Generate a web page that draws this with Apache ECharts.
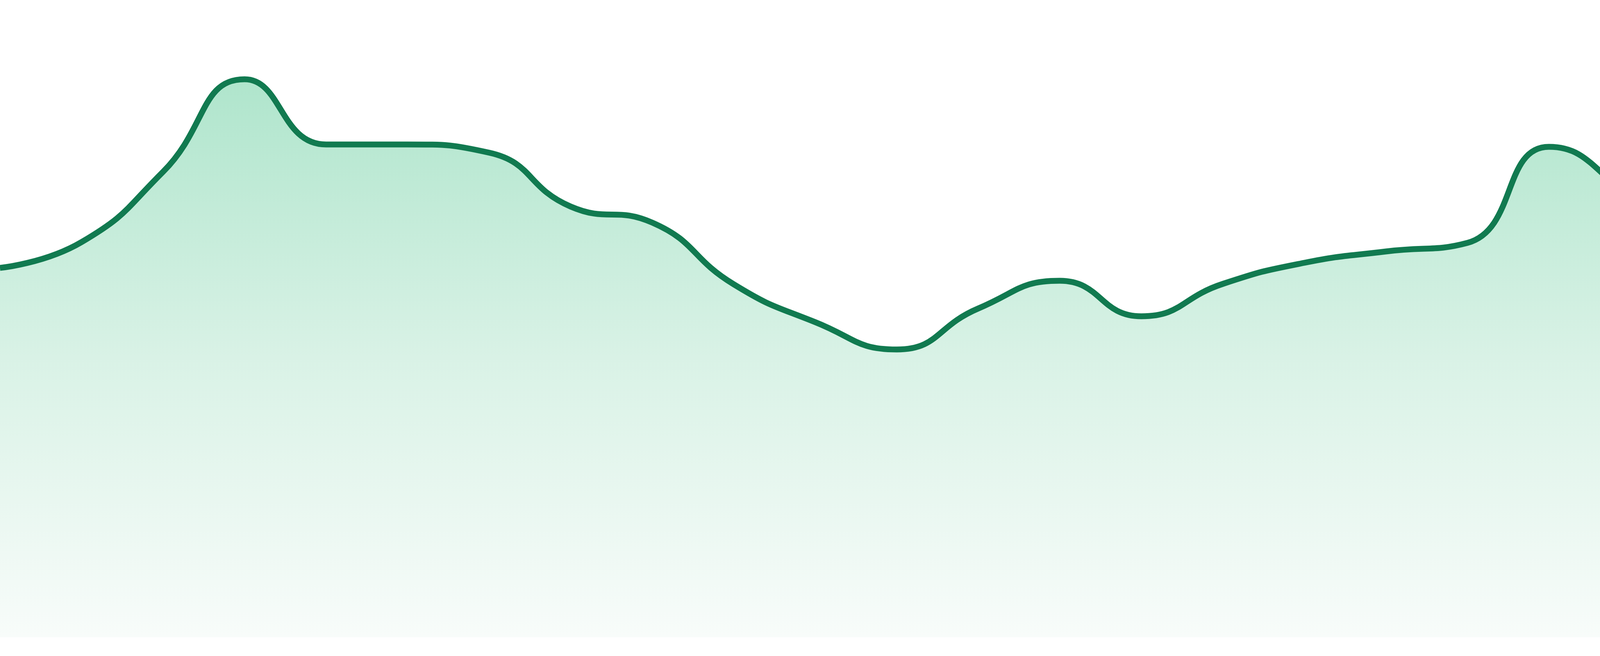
<!DOCTYPE html>
<html>
<head>
<meta charset="utf-8">
<script src="https://cdn.jsdelivr.net/npm/echarts@6/dist/echarts.min.js"></script>
<style>
  html, body { margin: 0; padding: 0; background: #ffffff; }
  #chart { width: 4800px; height: 1680px; }
</style>
</head>
<body>
<div id="chart"></div>
<script>
// Categories (24 evenly spaced points, no labels shown in the reference)
const categories = ['1','2','3','4','5','6','7','8','9','10','11','12',
                    '13','14','15','16','17','18','19','20','21','22','23','24'];

// Series values
const values = [94.6, 101.2, 119.2, 142.9, 126.2, 126.2, 124.1, 110.3,
                106.2, 90.4, 80.7, 73.7, 84.2, 91.3, 82.2, 90.5,
                95.9, 98.8, 101.0, 125.6, 112.6, 93.4, 102.7, 116.1];

// Value-axis range
const yMin = 0;
const yMax = 160;

const chart = echarts.init(document.getElementById('chart'), null, { renderer: 'canvas' });

chart.setOption({
  animation: false,
  backgroundColor: '#ffffff',
  grid: { left: 0, right: 0, top: 32, bottom: 48, containLabel: false },
  xAxis: {
    type: 'category',
    data: categories,
    boundaryGap: false,
    show: false
  },
  yAxis: {
    type: 'value',
    min: yMin,
    max: yMax,
    show: false,
    splitLine: { show: false }
  },
  series: [{
    type: 'line',
    data: values,
    smooth: 0.5,
    symbol: 'none',
    lineStyle: { color: '#117a50', width: 15 },
    itemStyle: { color: '#117a50' },
    areaStyle: {
      opacity: 1,
      color: {
        type: 'linear',
        x: 0, y: 200, x2: 0, y2: 1632,
        global: true,
        colorStops: [
          { offset: 0, color: '#afe5cc' },
          { offset: 0.5, color: '#d9f2e6' },
          { offset: 1, color: '#f8fcfa' }
        ]
      }
    }
  }]
});
</script>
</body>
</html>
